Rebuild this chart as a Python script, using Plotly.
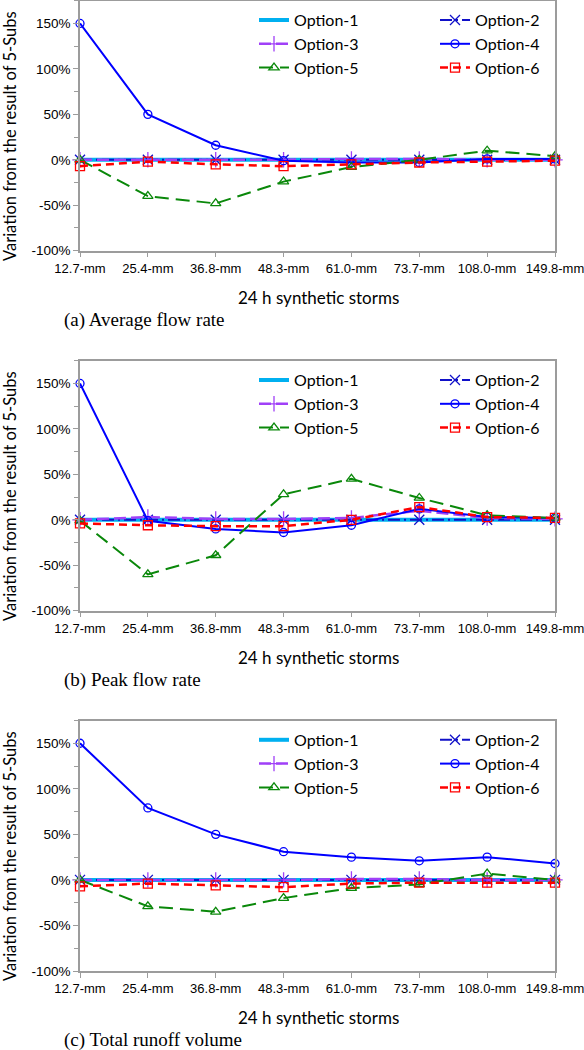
import plotly.graph_objects as go

# ---------------- data ----------------
categories = ["12.7-mm", "25.4-mm", "36.8-mm", "48.3-mm", "61.0-mm", "73.7-mm", "108.0-mm", "149.8-mm"]
options = ["Option-1", "Option-2", "Option-3", "Option-4", "Option-5", "Option-6"]

# (a) Average flow rate  (% variation)
avg_opt1 = [0, 0, 0, 0, 0, 0, 0, 0]
avg_opt2 = [0, 0, 0, 0, 0, 0, 0, 0]
avg_opt3 = [0, 0, 0, 0, 1, 1, 0, 0]
avg_opt4 = [150, 50, 16, -1, -3, -3, 1, 1]
avg_opt5 = [0, -40, -48, -24, -8, 0, 10, 4]
avg_opt6 = [-7, -2, -5, -7, -5, -3, -2, -1]

# (b) Peak flow rate
peak_opt1 = [0, 0, 0, 0, 0, 0, 0, 0]
peak_opt2 = [0, 0, 0, 0, 0, 0, 0, 0]
peak_opt3 = [0, 3, 1, 1, 2, 10, 2, 1]
peak_opt4 = [150, -1, -10, -14, -6, 12, 3, 2]
peak_opt5 = [-1, -60, -39, 28, 45, 24, 5, 2]
peak_opt6 = [-4, -6, -7, -7, 0, 14, 3, 2]

# (c) Total runoff volume
vol_opt1 = [0, 0, 0, 0, 0, 0, 0, 0]
vol_opt2 = [0, 0, 0, 0, 0, 0, 0, 0]
vol_opt3 = [0, 0, 0, 0, 1, 1, 0, 0]
vol_opt4 = [150, 79, 50, 31, 25, 21, 25, 18]
vol_opt5 = [0, -29, -35, -20, -9, -5, 7, 0]
vol_opt6 = [-7, -4, -6, -8, -4, -3, -3, -3]

y_tick_values = [-100, -50, 0, 50, 100, 150]
y_tick_labels = ["-100%", "-50%", "0%", "50%", "100%", "150%"]

captions = ["(a) Average flow rate", "(b) Peak flow rate", "(c) Total runoff volume"]
x_title = "24 h synthetic storms"
y_title = "Variation from the result of 5-Subs"

panels = [
    [avg_opt1, avg_opt2, avg_opt3, avg_opt4, avg_opt5, avg_opt6],
    [peak_opt1, peak_opt2, peak_opt3, peak_opt4, peak_opt5, peak_opt6],
    [vol_opt1, vol_opt2, vol_opt3, vol_opt4, vol_opt5, vol_opt6],
]

# ---------------- styles ----------------
styles = [
    dict(color="#00B0F0", width=4, dash="solid", symbol=None, msize=0, lw=136),
    dict(color="#1010C8", width=2, dash="12px,4px,2px,4px", symbol="x-thin-open", msize=10, lw=70),
    dict(color="#A040F8", width=2.5, dash="12px,5px", symbol="cross-thin-open", msize=11, lw=136),
    dict(color="#0000FF", width=2, dash="solid", symbol="circle-open", msize=8, lw=70),
    dict(color="#0A880A", width=2, dash="14px,7px", symbol="triangle-up-open", msize=9, lw=136),
    dict(color="#FF0000", width=2.5, dash="8px,5px", symbol="square-open", msize=9, lw=70),
]

W, H = 584, 1050
ML, MR, MT, MB = 80, 29, 0, 0
PW = W - ML - MR
# plot areas in pixel rows (top, bottom)
panel_px = [(0.7, 250.7), (360.7, 610.7), (720.5, 971.0)]


def px_x(px):
    return (px - ML) / PW


def px_y(py):
    return 1 - (py - MT) / (H - MT - MB)


fig = go.Figure()
font_sans = "Lato, 'Open Sans', sans-serif"
font_tick = "'Liberation Sans', Arial, sans-serif"
font_serif = "'Liberation Serif', 'Times New Roman', serif"
axis_col = "#9c9c9c"

for p, series in enumerate(panels):
    sfx = "" if p == 0 else str(p + 1)
    for name, vals, st in zip(options, series, styles):
        mode = "lines" if st["symbol"] is None else "lines+markers"
        marker = {} if st["symbol"] is None else dict(
            symbol=st["symbol"], size=st["msize"], color=st["color"],
            line=dict(color=st["color"], width=1.3))
        fig.add_trace(go.Scatter(
            x=categories, y=vals, name=name, mode=mode,
            line=dict(color=st["color"], width=st["width"], dash=st["dash"]),
            marker=marker, cliponaxis=False,
            xaxis="x" + sfx, yaxis="y" + sfx,
            legend="legend" + sfx, legendwidth=st["lw"],
        ))

layout = dict(
    width=W, height=H, autosize=False,
    margin=dict(l=ML, r=MR, t=MT, b=MB, pad=0),
    paper_bgcolor="white", plot_bgcolor="white",
    template="none", showlegend=True,
)

annotations = []
for p in range(3):
    sfx = "" if p == 0 else str(p + 1)
    top, bot = panel_px[p]
    layout["xaxis" + sfx] = dict(
        type="category", range=[0, 7], domain=[0, 1], anchor="y" + sfx,
        showline=True, mirror=True, linecolor=axis_col, linewidth=1.5,
        ticks="outside", ticklen=5, tickcolor=axis_col, tickwidth=1.2,
        showgrid=False, zeroline=False, tickangle=0,
        tickfont=dict(family=font_tick, size=13, color="black"),
        automargin=False,
    )
    layout["yaxis" + sfx] = dict(
        range=[-100, 175], domain=[px_y(bot), px_y(top)], anchor="x" + sfx,
        tickmode="array", tickvals=y_tick_values, ticktext=y_tick_labels,
        showline=True, mirror=True, linecolor=axis_col, linewidth=1.5,
        ticks="outside", ticklen=5, tickcolor=axis_col, tickwidth=1.2,
        minor=dict(tickmode="linear", tick0=-100, dtick=25, ticks="outside",
                   ticklen=4, tickcolor=axis_col, tickwidth=1.2),
        showgrid=False, zeroline=False,
        tickfont=dict(family=font_tick, size=13.5, color="black"),
        automargin=False,
    )
    layout["legend" + sfx] = dict(
        orientation="h", entrywidth=136, entrywidthmode="pixels",
        x=px_x(254), xanchor="left", y=px_y(top + 2.4), yanchor="top",
        bgcolor="rgba(0,0,0,0)", borderwidth=0,
        font=dict(family=font_sans, size=16, color="black"),
        itemwidth=30, traceorder="normal",
    )
    shift = 360 * p
    annotations.append(dict(
        text=y_title, x=px_x(10), y=px_y(136 + shift), xref="paper", yref="paper",
        textangle=-90, showarrow=False, xanchor="center", yanchor="middle",
        font=dict(family=font_sans, size=16.5, color="black")))
    annotations.append(dict(
        text=x_title, x=px_x(318), y=px_y(297 + shift), xref="paper", yref="paper",
        showarrow=False, xanchor="center", yanchor="middle",
        font=dict(family=font_sans, size=17, color="black")))
    annotations.append(dict(
        text=captions[p], x=px_x(61.5), y=px_y(320 + shift), xref="paper", yref="paper",
        showarrow=False, xanchor="left", yanchor="middle",
        font=dict(family=font_serif, size=19, color="black")))

layout["annotations"] = annotations
fig.update_layout(**layout)

fig.write_html("out.html", config={"displayModeBar": False},
               post_script="document.body.style.margin='0';")
